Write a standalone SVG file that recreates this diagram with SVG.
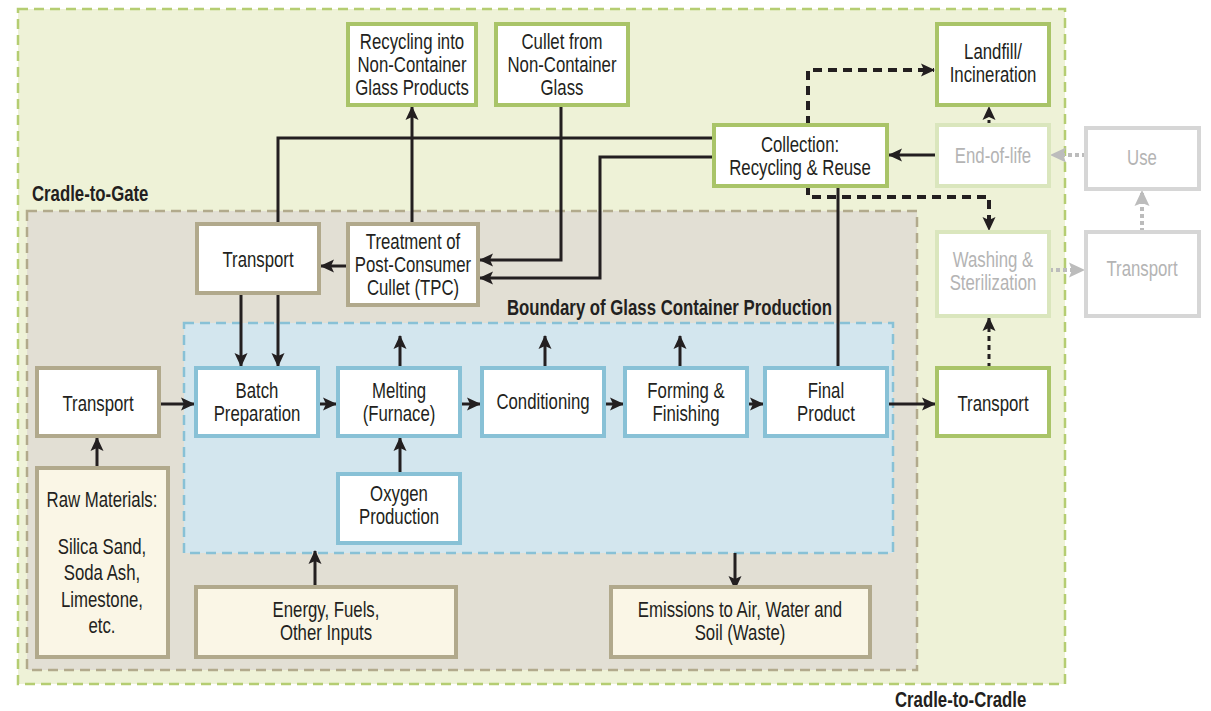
<svg xmlns="http://www.w3.org/2000/svg" width="1211" height="711" viewBox="0 0 1211 711">
<style>
text{font-family:"Liberation Sans",Arial,sans-serif;font-size:21.5px;fill:#231f20;text-anchor:middle}
.lbl{font-weight:bold;text-anchor:start}
.faded{fill:#b4b4b4}
.g{fill:#fff;stroke:#a9c468;stroke-width:4}
.gf{fill:#fff;stroke:#dae6bd;stroke-width:4}
.gr{fill:#fff;stroke:#d6d6d6;stroke-width:4}
.t{fill:#fff;stroke:#b1a98c;stroke-width:4}
.b{fill:#fff;stroke:#88c1d6;stroke-width:4}
.c{fill:#faf6e6;stroke:#b1a98c;stroke-width:4}
.ln{fill:none;stroke:#231f20;stroke-width:3}
.dl{fill:none;stroke:#231f20;stroke-width:4;stroke-dasharray:9 6}
.dt{fill:none;stroke:#231f20;stroke-width:3;stroke-dasharray:5 4}
.gl{fill:none;stroke:#bcbcbc;stroke-width:4;stroke-dasharray:4 3}
</style>
<defs>
<marker id="ah" markerUnits="userSpaceOnUse" markerWidth="14" markerHeight="14" refX="13" refY="7" orient="auto"><path d="M0,0.5 L14,7 L0,13.5 L3,7 Z" fill="#231f20"/></marker>
<marker id="ahg" markerUnits="userSpaceOnUse" markerWidth="16" markerHeight="16" refX="15" refY="8" orient="auto"><path d="M0,0.5 L16,8 L0,15.5 L3,8 Z" fill="#bcbcbc"/></marker>
</defs>
<g id="regions">
<rect x="18" y="9" width="1047" height="675" fill="#eef2d7" stroke="#b5cd72" stroke-width="2.5" stroke-dasharray="10 6"/>
<rect x="27" y="211" width="890" height="459" fill="#e2dfd4" stroke="#b2aa8c" stroke-width="2.5" stroke-dasharray="10 6"/>
<rect x="184" y="323" width="709" height="230" fill="#d3e6ee" stroke="#88c1d6" stroke-width="2.5" stroke-dasharray="10 6"/>
<g transform="translate(32,0) scale(0.78,1)"><text class="lbl" x="0" y="201">Cradle-to-Gate</text></g>
<g transform="translate(507,0) scale(0.78,1)"><text class="lbl" x="0" y="315">Boundary of Glass Container Production</text></g>
<g transform="translate(895,0) scale(0.78,1)"><text class="lbl" x="0" y="707">Cradle-to-Cradle</text></g>
</g>
<g id="connectors">
<polyline class="ln" points="714,138 278,138 278,224"/>
<polyline class="ln" points="714,157 600,157 600,278 480,278" marker-end="url(#ah)"/>
<polyline class="ln" points="561,105 561,260 480,260" marker-end="url(#ah)"/>
<line class="ln" x1="412" y1="224" x2="412" y2="107" marker-end="url(#ah)"/>
<line class="ln" x1="348" y1="266" x2="321" y2="266" marker-end="url(#ah)"/>
<line class="ln" x1="241" y1="293" x2="241" y2="366" marker-end="url(#ah)"/>
<line class="ln" x1="278" y1="293" x2="278" y2="366" marker-end="url(#ah)"/>
<line class="ln" x1="159" y1="404" x2="194" y2="404" marker-end="url(#ah)"/>
<line class="ln" x1="318" y1="404" x2="336" y2="404" marker-end="url(#ah)"/>
<line class="ln" x1="460" y1="404" x2="480" y2="404" marker-end="url(#ah)"/>
<line class="ln" x1="604" y1="404" x2="623" y2="404" marker-end="url(#ah)"/>
<line class="ln" x1="747" y1="404" x2="763" y2="404" marker-end="url(#ah)"/>
<line class="ln" x1="887" y1="404" x2="935" y2="404" marker-end="url(#ah)"/>
<line class="ln" x1="97" y1="468" x2="97" y2="438" marker-end="url(#ah)"/>
<line class="ln" x1="400" y1="474" x2="400" y2="438" marker-end="url(#ah)"/>
<line class="ln" x1="400" y1="368" x2="400" y2="336" marker-end="url(#ah)"/>
<line class="ln" x1="545" y1="368" x2="545" y2="336" marker-end="url(#ah)"/>
<line class="ln" x1="680" y1="368" x2="680" y2="336" marker-end="url(#ah)"/>
<line class="ln" x1="838" y1="368" x2="838" y2="186"/>
<line class="ln" x1="315" y1="587" x2="315" y2="551" marker-end="url(#ah)"/>
<line class="ln" x1="735" y1="553" x2="735" y2="589" marker-end="url(#ah)"/>
<line class="ln" x1="937" y1="155" x2="889" y2="155" marker-end="url(#ah)"/>
<polyline class="dl" points="808,125 808,70 934,70" marker-end="url(#ah)"/>
<polyline class="dl" points="808,186 808,197 989,197 989,230" marker-end="url(#ah)"/>
<line class="dt" x1="989" y1="125" x2="989" y2="107" marker-end="url(#ah)"/>
<line class="dt" x1="989" y1="368" x2="989" y2="318" marker-end="url(#ah)"/>
<line class="gl" x1="1086" y1="155" x2="1051" y2="155" marker-end="url(#ahg)"/>
<line class="gl" x1="1142" y1="232" x2="1142" y2="191" marker-end="url(#ahg)"/>
<line class="gl" x1="1049" y1="270" x2="1084" y2="270" marker-end="url(#ahg)"/>
</g>
<g id="n-recycling"><rect class="g" x="348" y="24" width="128" height="81"/><g transform="translate(412,0) scale(0.78,1)"><text x="0" y="49">Recycling into</text><text x="0" y="72">Non-Container</text><text x="0" y="95">Glass Products</text></g></g>
<g id="n-cullet"><rect class="g" x="496" y="24" width="132" height="81"/><g transform="translate(562,0) scale(0.78,1)"><text x="0" y="49">Cullet from</text><text x="0" y="72">Non-Container</text><text x="0" y="95">Glass</text></g></g>
<g id="n-landfill"><rect class="g" x="937" y="24" width="112" height="81"/><g transform="translate(993,0) scale(0.78,1)"><text x="0" y="59">Landfill/</text><text x="0" y="82">Incineration</text></g></g>
<g id="n-collection"><rect class="g" x="714" y="125" width="173" height="61"/><g transform="translate(800,0) scale(0.78,1)"><text x="0" y="152">Collection:</text><text x="0" y="175">Recycling &amp; Reuse</text></g></g>
<g id="n-eol"><rect class="gf" x="937" y="125" width="112" height="61"/><g transform="translate(993,0) scale(0.78,1)"><text class="faded" x="0" y="163">End-of-life</text></g></g>
<g id="n-use"><rect class="gr" x="1086" y="128" width="113" height="61"/><g transform="translate(1142,0) scale(0.78,1)"><text class="faded" x="0" y="165">Use</text></g></g>
<g id="n-washing"><rect class="gf" x="937" y="232" width="112" height="84"/><g transform="translate(993,0) scale(0.78,1)"><text class="faded" x="0" y="267">Washing &amp;</text><text class="faded" x="0" y="290">Sterilization</text></g></g>
<g id="n-transport-gray"><rect class="gr" x="1086" y="232" width="113" height="84"/><g transform="translate(1142,0) scale(0.78,1)"><text class="faded" x="0" y="276">Transport</text></g></g>
<g id="n-transport-top"><rect class="t" x="197" y="224" width="122" height="69"/><g transform="translate(258,0) scale(0.78,1)"><text x="0" y="267">Transport</text></g></g>
<g id="n-tpc"><rect class="t" x="348" y="224" width="130" height="81"/><g transform="translate(413,0) scale(0.78,1)"><text x="0" y="249">Treatment of</text><text x="0" y="272">Post-Consumer</text><text x="0" y="295">Cullet (TPC)</text></g></g>
<g id="n-transport-left"><rect class="t" x="37" y="368" width="122" height="68"/><g transform="translate(98,0) scale(0.78,1)"><text x="0" y="411">Transport</text></g></g>
<g id="n-batch"><rect class="b" x="196" y="368" width="122" height="68"/><g transform="translate(257,0) scale(0.78,1)"><text x="0" y="398">Batch</text><text x="0" y="421">Preparation</text></g></g>
<g id="n-melting"><rect class="b" x="338" y="368" width="122" height="68"/><g transform="translate(399,0) scale(0.78,1)"><text x="0" y="398">Melting</text><text x="0" y="421">(Furnace)</text></g></g>
<g id="n-conditioning"><rect class="b" x="482" y="368" width="122" height="68"/><g transform="translate(543,0) scale(0.78,1)"><text x="0" y="409">Conditioning</text></g></g>
<g id="n-forming"><rect class="b" x="625" y="368" width="122" height="68"/><g transform="translate(686,0) scale(0.78,1)"><text x="0" y="398">Forming &amp;</text><text x="0" y="421">Finishing</text></g></g>
<g id="n-final"><rect class="b" x="765" y="368" width="122" height="68"/><g transform="translate(826,0) scale(0.78,1)"><text x="0" y="398">Final</text><text x="0" y="421">Product</text></g></g>
<g id="n-transport-right"><rect class="g" x="937" y="368" width="112" height="68"/><g transform="translate(993,0) scale(0.78,1)"><text x="0" y="411">Transport</text></g></g>
<g id="n-oxygen"><rect class="b" x="338" y="474" width="122" height="69"/><g transform="translate(399,0) scale(0.78,1)"><text x="0" y="501">Oxygen</text><text x="0" y="524">Production</text></g></g>
<g id="n-raw"><rect class="c" x="37" y="468" width="131" height="189"/><g transform="translate(102,0) scale(0.78,1)"><text x="0" y="507">Raw Materials:</text><text x="0" y="554">Silica Sand,</text><text x="0" y="580">Soda Ash,</text><text x="0" y="607">Limestone,</text><text x="0" y="633">etc.</text></g></g>
<g id="n-energy"><rect class="c" x="196" y="587" width="260" height="70"/><g transform="translate(326,0) scale(0.78,1)"><text x="0" y="617">Energy, Fuels,</text><text x="0" y="640">Other Inputs</text></g></g>
<g id="n-emissions"><rect class="c" x="611" y="587" width="259" height="70"/><g transform="translate(740,0) scale(0.78,1)"><text x="0" y="617">Emissions to Air, Water and</text><text x="0" y="640">Soil (Waste)</text></g></g>
</svg>
